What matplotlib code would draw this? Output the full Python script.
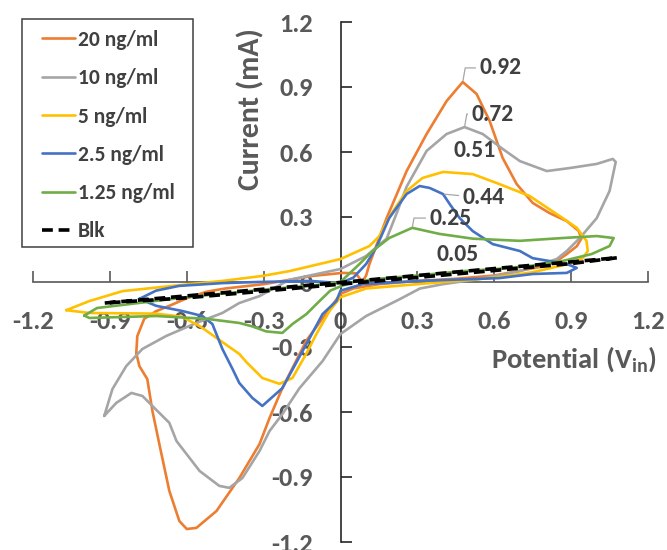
import matplotlib
matplotlib.use("Agg")
import matplotlib.pyplot as plt
from matplotlib.patches import Rectangle
import numpy as np

plt.rcParams['font.family'] = ['Carlito', 'DejaVu Sans']
plt.rcParams['font.weight'] = 'bold'
plt.rcParams['axes.unicode_minus'] = False
plt.rcParams['mathtext.fontset'] = 'custom'
plt.rcParams['mathtext.rm'] = 'Carlito:bold'
plt.rcParams['mathtext.bf'] = 'Carlito:bold'

# ---------------- data ----------------
series_names = ['20 ng/ml', '10 ng/ml', '5 ng/ml', '2.5 ng/ml', '1.25 ng/ml', 'Blk']

x20 = [-0.797, -0.793, -0.766, -0.72, -0.668, -0.60, -0.523, -0.45, -0.30, -0.11, 0.008, 0.06, 0.085,
       0.10, 0.113, 0.18, 0.258, 0.336, 0.414, 0.477, 0.531, 0.582, 0.633, 0.6875, 0.75, 0.816, 0.883,
       0.93, 0.94, 0.922, 0.883, 0.844, 0.777, 0.6, 0.45, 0.3, 0.15, 0.05, 0.0, -0.133, -0.227, -0.277,
       -0.316, -0.395, -0.484, -0.5625, -0.60, -0.629, -0.668, -0.707, -0.734, -0.754, -0.785, -0.797]
y20 = [-0.328, -0.25, -0.17, -0.135, -0.11, -0.075, -0.045, -0.03, -0.01, 0.028, 0.042, 0.04, 0.0,
       0.03, 0.083, 0.295, 0.512, 0.683, 0.835, 0.923, 0.868, 0.743, 0.572, 0.452, 0.365, 0.318, 0.281,
       0.235, 0.2, 0.165, 0.129, 0.097, 0.069, 0.03, 0.015, 0.005, -0.01, -0.03, -0.055, -0.27, -0.49,
       -0.628, -0.748, -0.905, -1.057, -1.135, -1.14, -1.103, -0.964, -0.748, -0.595, -0.448, -0.388,
       -0.328]

x10 = [-0.922, -0.89, -0.836, -0.773, -0.68, -0.5625, -0.461, -0.395, -0.316, -0.2, 0.0, 0.1, 0.18, 0.22,
       0.258, 0.336, 0.414, 0.484, 0.555, 0.633, 0.70, 0.805, 0.895, 1.0, 1.0625, 1.074, 1.05, 1.0, 0.934,
       0.883, 0.844, 0.70, 0.55, 0.40, 0.31, 0.23, 0.10, 0.0, -0.07, -0.16, -0.227, -0.277, -0.316, -0.383,
       -0.434, -0.473, -0.55, -0.64, -0.668, -0.719, -0.773, -0.816, -0.875, -0.922]
y10 = [-0.618, -0.494, -0.388, -0.309, -0.249, -0.189, -0.143, -0.097, -0.065, 0.01, 0.06, 0.12, 0.2, 0.32,
       0.44, 0.605, 0.683, 0.715, 0.683, 0.614, 0.558, 0.512, 0.526, 0.545, 0.568, 0.554, 0.42, 0.295, 0.203,
       0.143, 0.106, 0.05, 0.015, -0.01, -0.03, -0.08, -0.157, -0.24, -0.365, -0.49, -0.61, -0.688, -0.78,
       -0.905, -0.95, -0.941, -0.872, -0.734, -0.65, -0.59, -0.526, -0.512, -0.558, -0.618]

x5 = [-1.07, -0.98, -0.85, -0.656, -0.46, -0.305, -0.2, 0.0, 0.113, 0.152, 0.19, 0.258, 0.32, 0.40, 0.516,
      0.62, 0.738, 0.867, 0.922, 0.96, 0.965, 0.945, 0.906, 0.75, 0.6, 0.3, 0.1, 0.0, -0.043, -0.094, -0.133,
      -0.1875, -0.238, -0.305, -0.367, -0.395, -0.484, -0.55, -0.62, -0.72, -0.98, -1.07]
y5 = [-0.13, -0.088, -0.042, -0.018, 0.005, 0.028, 0.05, 0.106, 0.166, 0.212, 0.30, 0.42, 0.48, 0.508,
      0.498, 0.452, 0.397, 0.295, 0.25, 0.19, 0.143, 0.11, 0.088, 0.045, 0.02, -0.01, -0.03, -0.07, -0.134,
      -0.24, -0.33, -0.443, -0.47, -0.443, -0.37, -0.332, -0.258, -0.203, -0.16, -0.146, -0.143, -0.13]

x25 = [-0.785, -0.72, -0.63, -0.46, -0.32, -0.12, 0.0, 0.05, 0.10, 0.14, 0.19, 0.258, 0.309, 0.348, 0.40,
       0.426, 0.465, 0.516, 0.594, 0.70, 0.75, 0.883, 0.922, 0.883, 0.75, 0.62, 0.31, 0.086, 0.0, -0.016,
       -0.07, -0.133, -0.227, -0.305, -0.344, -0.395, -0.422, -0.461, -0.50, -0.539, -0.617, -0.719, -0.785]
y25 = [-0.078, -0.04, -0.018, -0.005, 0.0, 0.005, -0.005, 0.02, 0.083, 0.16, 0.295, 0.406, 0.443, 0.434,
       0.406, 0.36, 0.295, 0.235, 0.175, 0.143, 0.11, 0.083, 0.065, 0.042, 0.037, 0.018, 0.005, -0.01, -0.04,
       -0.088, -0.148, -0.286, -0.49, -0.572, -0.535, -0.466, -0.40, -0.309, -0.194, -0.157, -0.134, -0.11,
       -0.078]

x125 = [-1.0, -0.95, -0.6, -0.3, -0.1, 0.0, 0.074, 0.125, 0.19, 0.28, 0.386, 0.516, 0.70, 0.867, 1.0, 1.066,
        1.05, 0.98, 0.867, 0.738, 0.609, 0.475, 0.3, 0.15, 0.05, 0.0, -0.04, -0.082, -0.133, -0.1875, -0.227,
        -0.29, -0.344, -0.395, -0.523, -0.72, -0.98, -1.0]
y125 = [-0.155, -0.12, -0.07, -0.035, -0.015, 0.0, 0.083, 0.143, 0.203, 0.25, 0.222, 0.20, 0.19, 0.203,
        0.212, 0.203, 0.166, 0.129, 0.097, 0.074, 0.06, 0.05, 0.03, 0.015, 0.0, -0.02, -0.04, -0.088, -0.148,
        -0.194, -0.235, -0.228, -0.205, -0.189, -0.17, -0.157, -0.166, -0.155]

xblk = [-0.92, -0.6, -0.3, 0.0, 0.3, 0.6, 0.9, 1.08, 0.9, 0.6, 0.3, 0.0, -0.3, -0.6, -0.92]
yblk = [-0.097, -0.064, -0.033, -0.002, 0.03, 0.062, 0.093, 0.112, 0.085, 0.053, 0.021, -0.01, -0.042,
        -0.073, -0.097]

peak_labels = ['0.92', '0.72', '0.51', '0.44', '0.25', '0.05']

xtick_vals = [-1.2, -0.9, -0.6, -0.3, 0, 0.3, 0.6, 0.9, 1.2]
xtick_labels = ['-1.2', '-0.9', '-0.6', '-0.3', '0', '0.3', '0.6', '0.9', '1.2']
ytick_vals = [-1.2, -0.9, -0.6, -0.3, 0, 0.3, 0.6, 0.9, 1.2]
ytick_labels = ['-1.2', '-0.9', '-0.6', '-0.3', '0', '0.3', '0.6', '0.9', '1.2']

# ---------------- figure ----------------
W, H = 667, 550
fig = plt.figure(figsize=(W / 100, H / 100), dpi=100)
ax = fig.add_axes([33 / W, 1 - 542 / H, (648 - 33) / W, (542 - 22) / H])

colors = ['#ED7D31', '#A5A5A5', '#FFC000', '#4472C4', '#70AD47', '#000000']
xs = [x20, x10, x5, x25, x125, xblk]
ys = [y20, y10, y5, y25, y125, yblk]

lines = []
for i, (xx, yy) in enumerate(zip(xs, ys)):
    if series_names[i] == 'Blk':
        ln, = ax.plot(xx, yy, color=colors[i], lw=2.6, ls=(0, (3.0, 1.6)), zorder=3 + i)
    else:
        ln, = ax.plot(xx, yy, color=colors[i], lw=1.9, zorder=3 + i,
                      solid_joinstyle='round', solid_capstyle='round')
    lines.append(ln)

ax.set_xlim(-1.2, 1.2)
ax.set_ylim(-1.2, 1.2)
for s in ['top', 'right']:
    ax.spines[s].set_visible(False)
ax.spines['left'].set_position(('data', 0))
ax.spines['bottom'].set_position(('data', 0))
ax.spines['left'].set_color('#262626')
ax.spines['bottom'].set_color('#595959')
ax.spines['left'].set_linewidth(1.2)
ax.spines['bottom'].set_linewidth(1.2)

ax.set_xticks(xtick_vals)
ax.set_xticklabels(xtick_labels)
ax.set_yticks(ytick_vals)
ax.set_yticklabels(ytick_labels)
ax.tick_params(axis='x', direction='in', length=8, width=1.2, color='#595959',
               labelcolor='#595959', labelsize=19, pad=20)
ax.tick_params(axis='y', direction='in', length=8, width=1.2, color='#262626',
               labelcolor='#595959', labelsize=19, pad=20)
for lab in ax.get_xticklabels() + ax.get_yticklabels():
    lab.set_fontweight('bold')

# axis titles
ax.text(-0.35, 0.80, 'Current (mA)', rotation=90, ha='center', va='center',
        fontsize=21.5, fontweight='bold', color='#595959')
ax.text(0.91, -0.36, r'Potential (V$_{\mathrm{in}}$)', ha='center', va='center',
        fontsize=20.5, fontweight='bold', color='#595959')

# data labels
lab_pos = [(0.543, 0.988), (0.512, 0.775), (0.441, 0.605), (0.477, 0.388), (0.348, 0.295), (0.375, 0.129)]
leader = [True, True, False, True, True, False]
lab_color = '#404040'
for i, (txt, (lx, ly)) in enumerate(zip(peak_labels, lab_pos)):
    xx = np.array(xs[i]); yy = np.array(ys[i])
    if leader[i]:
        k = int(np.argmax(yy))
        if series_names[i] == '2.5 ng/ml':
            k = 14  # shoulder point right of the peak, where the leader attaches
            cs = 'arc3,rad=0'
        else:
            cs = 'angle,angleA=0,angleB=80,rad=0'
        ax.annotate(txt, xy=(xx[k], yy[k]), xytext=(lx, ly), ha='left', va='center',
                    fontsize=17, fontweight='bold', color=lab_color,
                    arrowprops=dict(arrowstyle='-', color='#A6A6A6', lw=0.9,
                                    shrinkA=1, shrinkB=1, connectionstyle=cs),
                    zorder=20)
    else:
        ax.text(lx, ly, txt, ha='left', va='center', fontsize=17, fontweight='bold',
                color=lab_color, zorder=20)

# legend
leg = ax.legend(lines, series_names, loc='upper left',
                bbox_to_anchor=(42 / W, 1 - 30 / H), bbox_transform=fig.transFigure,
                frameon=False, borderpad=0, borderaxespad=0,
                handlelength=1.55, handletextpad=0.1, labelspacing=0.85,
                prop={'weight': 'bold', 'size': 15.5, 'family': 'Carlito'})
for t in leg.get_texts():
    t.set_color('#404040')
fig.patches.append(Rectangle((22 / W, 1 - 247 / H), (193 - 22) / W, (247 - 19) / H,
                             transform=fig.transFigure, fill=False, edgecolor='#404040',
                             lw=1.1, zorder=30))

fig.savefig('out.png', dpi=100)
